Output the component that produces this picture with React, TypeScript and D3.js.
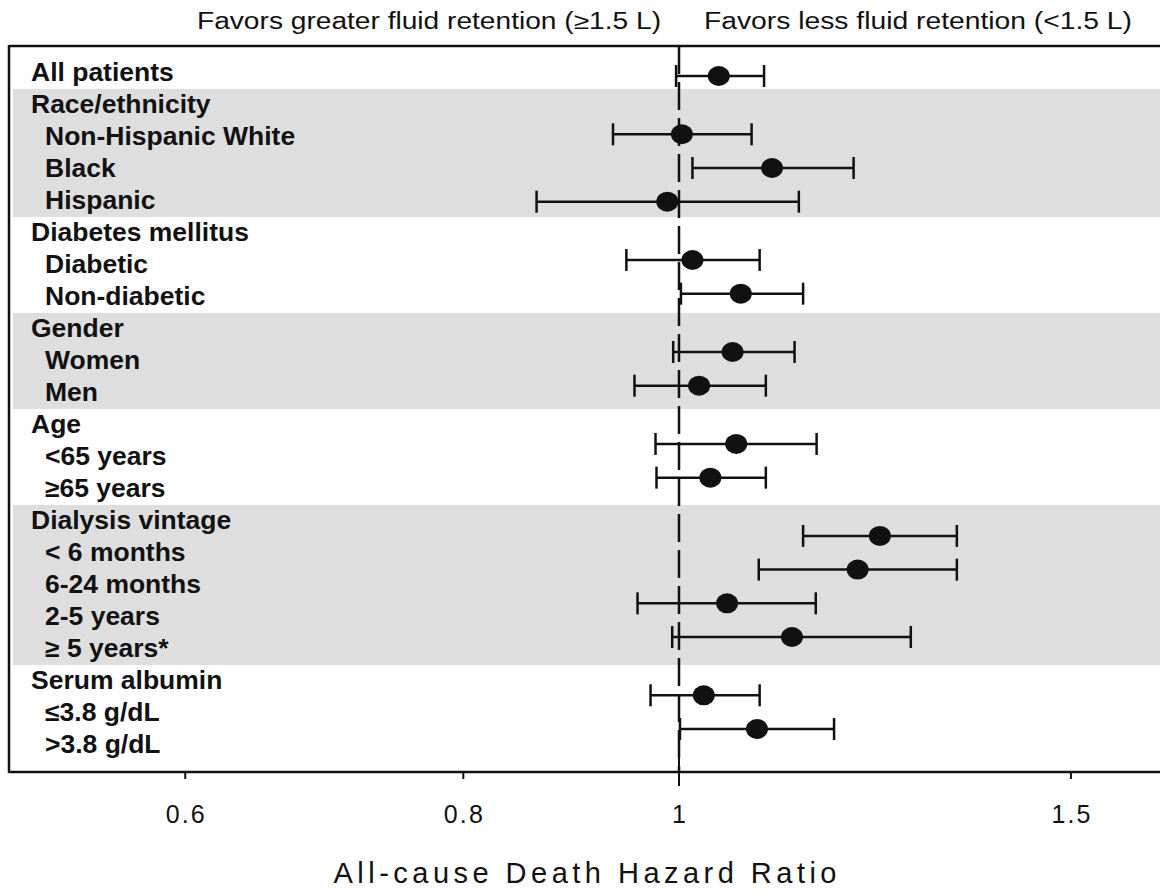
import React from "react";
import * as d3 from "d3";

const rowLabels = [
  "All patients",
  "Race/ethnicity",
  "Non-Hispanic White",
  "Black",
  "Hispanic",
  "Diabetes mellitus",
  "Diabetic",
  "Non-diabetic",
  "Gender",
  "Women",
  "Men",
  "Age",
  "<65 years",
  "≥65 years",
  "Dialysis vintage",
  "< 6 months",
  "6-24 months",
  "2-5 years",
  "≥ 5 years*",
  "Serum albumin",
  "≤3.8 g/dL",
  ">3.8 g/dL",
];
const headerRows = [0, 1, 5, 8, 11, 14, 19];
const shadedGroups: [number, number][] = [
  [1, 4],
  [8, 10],
  [14, 18],
];

// estimates: row index, hazard ratio, lower CI, upper CI
const estRows = [0, 2, 3, 4, 6, 7, 9, 10, 12, 13, 15, 16, 17, 18, 20, 21];
const hr = [1.042, 1.003, 1.101, 0.988, 1.014, 1.066, 1.057, 1.021, 1.061, 1.033, 1.231, 1.203, 1.051, 1.124, 1.026, 1.084];
const lower = [0.997, 0.934, 1.014, 0.863, 0.947, 1.002, 0.994, 0.955, 0.976, 0.977, 1.137, 1.086, 0.958, 0.993, 0.971, 1.001];
const upper = [1.092, 1.078, 1.198, 1.132, 1.087, 1.137, 1.127, 1.094, 1.153, 1.094, 1.333, 1.333, 1.152, 1.271, 1.087, 1.174];

const tickValues = [0.6, 0.8, 1, 1.5];
const tickLabels = ["0.6", "0.8", "1", "1.5"];

const W = 1160;
const H = 893;
const frameLeft = 9;
const frameTop = 46;
const frameBottom = 772;

export default function App() {
  const x = d3.scaleLog().domain([0.5, 1]).range([frameLeft, 679]);
  const yLabel = d3.scaleLinear().domain([0, 21]).range([72, 744]);
  // point slots: each group header takes a shorter step than an estimate row
  const headerStep = 0.73;
  const slotOf = (r: number, i: number) =>
    i + headerStep * headerRows.filter((h) => h > 0 && h < r).length;
  const maxSlot = slotOf(estRows[estRows.length - 1], estRows.length - 1);
  const yPt = d3.scaleLinear().domain([0, maxSlot]).range([76, 729]);
  const font = "'Liberation Sans', Arial, Helvetica, sans-serif";
  const capH = 11;
  const ink = "#111";

  return (
    <div style={{ position: "absolute", left: 0, top: 0 }}>
      <svg width={W} height={H} style={{ display: "block" }}>
        <rect x={0} y={0} width={W} height={H} fill="#fff" />
        {shadedGroups.map(([a, b], i) => (
          <rect
            key={"band" + i}
            x={frameLeft + 4}
            y={yLabel(a) - 15}
            width={W - frameLeft}
            height={yLabel(b) - yLabel(a) + 32}
            fill="#dedede"
          />
        ))}
        {/* reference line */}
        <line
          x1={x(1)}
          x2={x(1)}
          y1={frameTop}
          y2={frameBottom}
          stroke={ink}
          strokeWidth={2.5}
          strokeDasharray="28,8"
        />
        {/* frame */}
        <line x1={frameLeft} x2={W} y1={frameTop} y2={frameTop} stroke={ink} strokeWidth={2.5} />
        <line x1={frameLeft} x2={W} y1={frameBottom} y2={frameBottom} stroke={ink} strokeWidth={2.5} />
        <line x1={frameLeft} x2={frameLeft} y1={frameTop - 1} y2={frameBottom + 1} stroke={ink} strokeWidth={2.5} />
        {/* ticks */}
        {tickValues.map((v, i) => (
          <g key={"t" + i}>
            <line
              x1={x(v)}
              x2={x(v)}
              y1={v === 1 ? frameBottom - 15 : frameBottom}
              y2={frameBottom + (v === 1 ? 14 : 7)}
              stroke={ink}
              strokeWidth={2}
            />
            <text
              x={x(v)}
              y={823}
              textAnchor="middle"
              fontFamily={font}
              fontSize={25}
              fill={ink}
              {...(tickLabels[i].length > 1
                ? { textLength: 13 * tickLabels[i].length, lengthAdjust: "spacing" }
                : {})}
            >
              {tickLabels[i]}
            </text>
          </g>
        ))}
        <text
          x={585}
          y={883}
          textAnchor="middle"
          fontFamily={font}
          fontSize={29}
          fill={ink}
          textLength={503}
          lengthAdjust="spacing"
        >
          All-cause Death Hazard Ratio
        </text>
        {/* top annotations */}
        <text
          x={429}
          y={29}
          textAnchor="middle"
          fontFamily={font}
          fontSize={23}
          fill={ink}
          textLength={464}
          lengthAdjust="spacingAndGlyphs"
        >
          Favors greater fluid retention (≥1.5 L)
        </text>
        <text
          x={918}
          y={29}
          textAnchor="middle"
          fontFamily={font}
          fontSize={23}
          fill={ink}
          textLength={428}
          lengthAdjust="spacingAndGlyphs"
        >
          Favors less fluid retention (&lt;1.5 L)
        </text>
        {/* row labels */}
        {rowLabels.map((lab, r) => (
          <text
            key={"l" + r}
            transform={`translate(${headerRows.includes(r) ? 31 : 45},${yLabel(r)}) scale(1.06,1)`}
            dy="0.36em"
            fontFamily={font}
            fontWeight="bold"
            fontSize={25}
            fill={ink}
          >
            {lab}
          </text>
        ))}
        {/* estimates */}
        {estRows.map((r, i) => {
          const yy = yPt(slotOf(r, i));
          return (
            <g key={"e" + i}>
              <line x1={x(lower[i])} x2={x(upper[i])} y1={yy} y2={yy} stroke={ink} strokeWidth={2.5} />
              <line x1={x(lower[i])} x2={x(lower[i])} y1={yy - capH} y2={yy + capH} stroke={ink} strokeWidth={2.5} />
              <line x1={x(upper[i])} x2={x(upper[i])} y1={yy - capH} y2={yy + capH} stroke={ink} strokeWidth={2.5} />
              <ellipse cx={x(hr[i])} cy={yy} rx={11} ry={10} fill={ink} />
            </g>
          );
        })}
      </svg>
    </div>
  );
}
